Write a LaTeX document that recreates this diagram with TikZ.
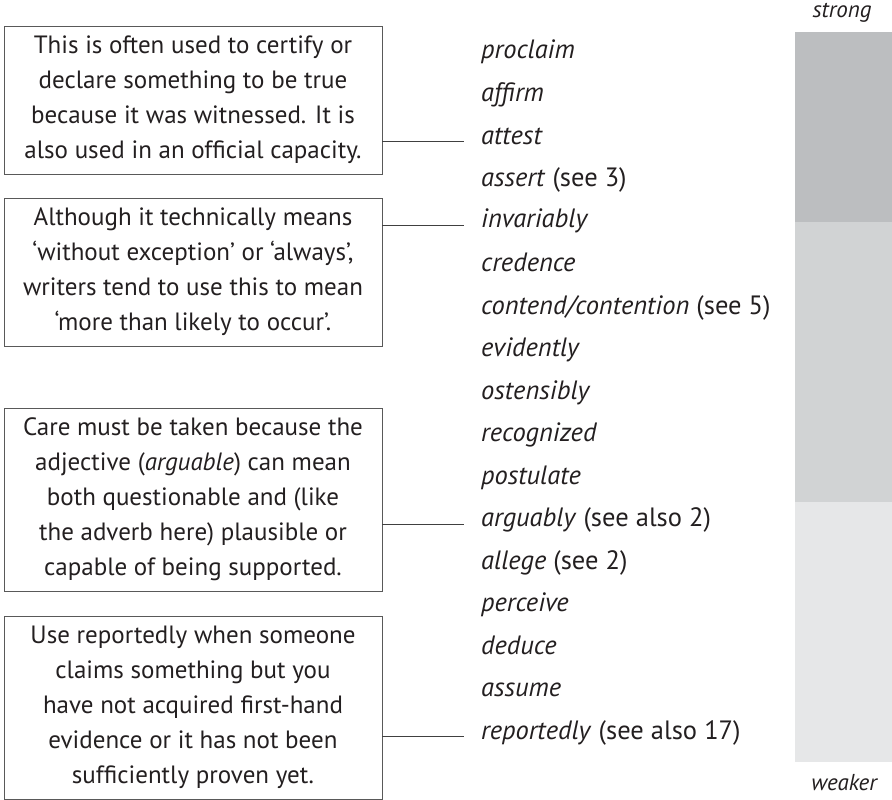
\documentclass[tikz,border=0pt]{standalone}
\usepackage{fontspec}
\setmainfont{PT Sans}
\definecolor{txt}{HTML}{231F20}
\definecolor{barA}{HTML}{BCBEC0}
\definecolor{barB}{HTML}{D1D3D4}
\definecolor{barC}{HTML}{E6E7E8}
\begin{document}
\begin{tikzpicture}[x=1pt,y=-1pt,
  note/.style={draw=black!65, line width=0.9pt, align=center, text=txt,
    minimum width=378pt, inner sep=0pt, font=\fontsize{25}{35}\selectfont},
  word/.style={anchor=mid west, inner sep=0pt, text=txt, font=\fontsize{26.5}{30}\selectfont},
  conn/.style={draw=black!75, line width=0.8pt},
  endlabel/.style={inner sep=0pt, text=txt, font=\fontsize{23}{30}\selectfont\itshape}]
\useasboundingbox (0,0) rectangle (892,800);
% strength bar
\fill[barA] (795,32) rectangle (892,222);
\fill[barB] (795,222) rectangle (892,502);
\fill[barC] (795,502) rectangle (892,762);
\node[endlabel, anchor=mid] (strong) at (842,15) {strong};
\node[endlabel, anchor=mid] (weaker) at (844,788) {weaker};
% words
\node[word] (w0) at (481,56.5) {\textit{proclaim}};
\node[word] (w1) at (481,99) {\textit{affirm}};
\node[word] (w2) at (481,141.5) {\textit{attest}};
\node[word] (w3) at (481,184) {\textit{assert} (see 3)};
\node[word] (w4) at (481,225) {\textit{invariably}};
\node[word] (w5) at (481,269) {\textit{credence}};
\node[word] (w6) at (481,311.5) {\textit{contend/contention} (see 5)};
\node[word] (w7) at (481,354) {\textit{evidently}};
\node[word] (w8) at (481,396.5) {\textit{ostensibly}};
\node[word] (w9) at (481,439) {\textit{recognized}};
\node[word] (w10) at (481,481.5) {\textit{postulate}};
\node[word] (w11) at (481,524) {\textit{arguably} (see also 2)};
\node[word] (w12) at (481,566.5) {\textit{allege} (see 2)};
\node[word] (w13) at (481,609) {\textit{perceive}};
\node[word] (w14) at (481,651.5) {\textit{deduce}};
\node[word] (w15) at (481,694) {\textit{assume}};
\node[word] (w16) at (481,736.5) {\textit{reportedly} (see also 17)};
% notes
\node[note, minimum height=148pt] (b1) at (193,100) {This is often used to certify or\\declare something to be true\\because it was witnessed. It is\\also used in an official capacity.};
\node[note, minimum height=148pt] (b2) at (193,272) {Although it technically means\\‘without exception’ or ‘always’,\\writers tend to use this to mean\\‘more than likely to occur’.};
\node[note, minimum height=183pt] (b3) at (193,499.5) {Care must be taken because the\\adjective (\textit{arguable}) can mean\\both questionable and (like\\the adverb here) plausible or\\capable of being supported.};
\node[note, minimum height=183pt] (b4) at (193,707.5) {Use reportedly when someone\\claims something but you\\have not acquired first-hand\\evidence or it has not been\\sufficiently proven yet.};
% connectors
\draw[conn] (b1.east |- w2.mid west) -- ([xshift=-17pt]w2.mid west);
\draw[conn] (b2.east |- w4.mid west) -- ([xshift=-17pt]w4.mid west);
\draw[conn] (b3.east |- w11.mid west) -- ([xshift=-17pt]w11.mid west);
\draw[conn] (b4.east |- w16.mid west) -- ([xshift=-17pt]w16.mid west);
\end{tikzpicture}
\end{document}
